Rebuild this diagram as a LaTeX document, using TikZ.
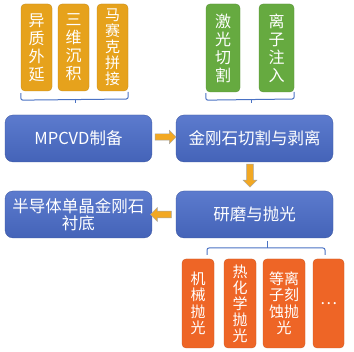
\documentclass[tikz,border=0pt]{standalone}
\usepackage{fontspec}
\setmainfont{Noto Sans CJK SC}
\usetikzlibrary{shapes.arrows}
\definecolor{topor}{HTML}{E6A21C}
\definecolor{topgr}{HTML}{66AA40}
\definecolor{bluebx}{HTML}{4A6CC8}
\definecolor{botor}{HTML}{EE6526}
\definecolor{arrowor}{HTML}{F2A823}
\definecolor{bracecol}{HTML}{4A72C4}
\tikzset{
  vbox/.style={rounded corners=4pt, inner sep=0pt, align=center, text=white,
    font=\fontsize{16}{18}\selectfont},
  obox/.style={vbox, fill=topor, draw=topor!85!black, line width=0.3pt},
  gbox/.style={vbox, fill=topgr, draw=topgr!85!black, line width=0.3pt},
  rbox/.style={vbox, fill=botor, draw=botor!85!black, line width=0.3pt},
  bbox/.style={rounded corners=8pt, inner sep=0pt, align=center, text=white,
    minimum width=147pt, minimum height=47pt,
    top color=bluebx!90!white, bottom color=bluebx!92!black,
    draw=bluebx!80!black, line width=0.3pt,
    font=\fontsize{16.5}{17.5}\selectfont},
  flow/.style={single arrow, fill=arrowor, draw=gray!70, line width=0.4pt,
    inner sep=3pt, single arrow head extend=3.5pt, minimum height=21pt},
  brace/.style={draw=bracecol, line width=1pt, rounded corners=2pt}
}
\begin{document}
\begin{tikzpicture}[x=1pt,y=-1pt]
\useasboundingbox[fill=white] (0,0) rectangle (354,352);
% top orange
\node[obox, minimum width=31pt, minimum height=87pt] (b1) at (36.5,47.5) {异\\质\\外\\延};
\node[obox, minimum width=31pt, minimum height=87pt] (b2) at (73.5,47.5) {三\\维\\沉\\积};
\node[obox, minimum width=31pt, minimum height=87pt, font=\fontsize{15}{16}\selectfont] (b3) at (112.5,47.5) {马\\赛\\克\\拼\\接};
% top green
\node[gbox, minimum width=34pt, minimum height=88pt] (g1) at (223,48) {激\\光\\切\\割};
\node[gbox, minimum width=35pt, minimum height=88pt] (g2) at (276.5,48) {离\\子\\注\\入};
% blue
\node[bbox] (mp) at (78.5,138.5) {MPCVD制备};
\node[bbox, minimum width=157pt] (cut) at (254.5,138.5) {金刚石切割与剥离};
\node[bbox] (sub) at (78.5,214.5) {半导体单晶金刚石\\衬底};
\node[bbox, minimum width=157pt] (pol) at (254.5,214.5) {研磨与抛光};
% bottom orange
\node[rbox, minimum width=32pt, minimum height=89pt, font=\fontsize{15}{16.5}\selectfont] (o1) at (198,303.5) {机\\械\\抛\\光};
\node[rbox, minimum width=32pt, minimum height=89pt, font=\fontsize{15}{16}\selectfont] (o2) at (240,303.5) {热\\化\\学\\抛\\光};
\node[rbox, minimum width=42pt, minimum height=89pt, font=\fontsize{15}{16.5}\selectfont] (o3) at (284,303.5) {等离\\子刻\\蚀抛\\光};
\node[rbox, minimum width=31pt, minimum height=89pt] (o4) at (328.5,303.5) {…};
% arrows
\node[flow, minimum width=13pt] (a1) at (164,137) {};
\node[flow, minimum width=14pt, shape border rotate=270, minimum height=23pt] (a2) at (250,174) {};
\node[flow, minimum width=14pt, shape border rotate=180] (a3) at (162.5,214.5) {};
% braces
\coordinate (t1) at (75,103);
\draw[brace] (b1.south west) ++(0,2) -- ++(0,7) -- (b3.south east |- 0,99) -- ++(0,-7);
\draw[brace] (75,99) -- (t1);
\coordinate (t2) at (251,103);
\draw[brace] (g1.south west) ++(0,1) -- ++(0,7) -- (g2.south east |- 0,99) -- ++(0,-7);
\draw[brace] (251,99) -- (t2);
\coordinate (t3) at (267,241);
\draw[brace] (207,255) -- (207,248) -- (325,248) -- (325,255);
\draw[brace] (t3) -- (267,248);
\end{tikzpicture}
\end{document}
